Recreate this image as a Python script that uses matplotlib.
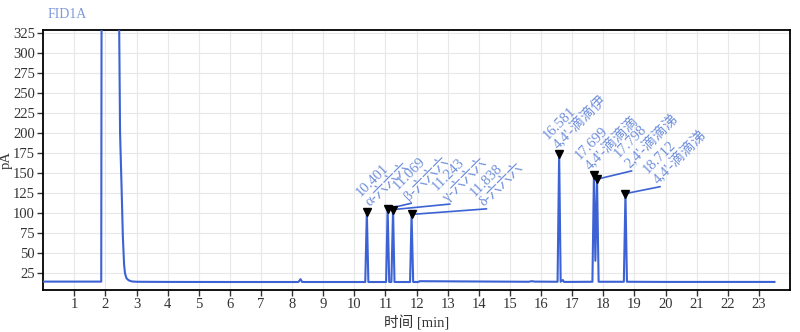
import matplotlib
matplotlib.use('Agg')
import matplotlib.pyplot as plt

plt.rcParams['font.family'] = ['Liberation Serif', 'Noto Sans CJK SC']

# chromatogram trace (min, pA)
trace_time = [0.0, 1.0, 1.865, 1.875, 2.44, 2.47, 2.52, 2.56, 2.60, 2.63, 2.68, 2.75, 2.85, 3.0,
              4.0, 6.0, 8.2, 8.27, 8.32, 8.4, 10.0, 10.35,
              10.401, 10.45, 11.02, 11.069, 11.12, 11.19, 11.243, 11.29, 11.79, 11.838, 11.89,
              12.05, 12.1, 15.6, 15.7, 15.8, 16.53, 16.581, 16.63, 16.7, 16.73, 16.77,
              17.65, 17.699, 17.745, 17.798, 17.85, 18.66, 18.712, 18.76, 20.0, 23.5]
trace_signal = [14.0, 14.0, 14.0, 340.0, 340.0, 200.0, 130.0, 70.0, 35.0, 24.0, 18.0, 15.5, 14.2, 13.8,
                13.6, 13.5, 13.5, 17.0, 13.6, 13.5, 13.5, 13.5,
                101.0, 13.5, 13.5, 105.0, 13.5, 13.5, 104.0, 13.5, 13.5, 98.0, 13.5,
                13.5, 14.5, 13.8, 14.5, 14.0, 13.8, 174.0, 13.8, 16.0, 13.8, 13.6,
                13.8, 147.0, 40.0, 142.0, 13.8, 13.8, 124.0, 13.8, 13.6, 13.6]

# identified peaks
peak_rt = [10.401, 11.069, 11.243, 11.838, 16.581, 17.699, 17.798, 18.712]
peak_height = [101.0, 105.0, 104.0, 98.0, 174.0, 147.0, 142.0, 124.0]
peak_name = ['α-六六六', 'β-六六六', 'γ-六六六', 'δ-六六六',
             "4,4'-滴滴伊", "4,4'-滴滴滴", "2,4'-滴滴涕", "4,4'-滴滴涕"]

# label offsets in points, and whether a leader line is drawn
label_offset = [(4, 2), (17, 4), (41, 4), (54, 4), (1, 1), (-1, 2), (25, 6), (25, 5)]
label_leader = [False, True, True, True, False, False, True, True]

blue = '#3c62d4'
label_blue = '#6f8fdc'

fig = plt.figure(figsize=(8, 3.32), dpi=100)
ax = fig.add_axes([0.054, 0.1265, 0.9335, 0.783])

ax.plot(trace_time, trace_signal, color=blue, lw=1.5, zorder=3)
ax.plot(peak_rt, peak_height, linestyle='none', marker='v', color='black', markersize=6, zorder=4)

for rt, h, name, off, lead in zip(peak_rt, peak_height, peak_name, label_offset, label_leader):
    if lead:
        ax.annotate('', xy=(rt, h), xytext=off, textcoords='offset points',
                    arrowprops=dict(arrowstyle='-', color=blue, lw=1.2, shrinkA=0, shrinkB=0))
    ax.annotate(f'{rt:.3f}\n{name}', xy=(rt, h), xytext=off, textcoords='offset points',
                rotation=45, rotation_mode='anchor', ha='left', va='bottom',
                fontsize=10.5, color=label_blue, linespacing=1.05)

ax.set_xlim(0, 24)
ax.set_ylim(3.5, 328.5)
ax.set_xticks(range(1, 24))
ax.set_yticks(range(25, 326, 25))
ax.grid(True, color='#e8e8e8', lw=0.8)
ax.set_axisbelow(True)
for s in ax.spines.values():
    s.set_color('black')
    s.set_linewidth(1.3)
ax.tick_params(direction='out', length=4, width=1, pad=2, labelsize=10.5, colors='#333333')
ax.set_xlabel('时间 [min]', fontsize=10.5, color='#333333', va='center')
ax.set_ylabel('pA', fontsize=10.5, color='#333333', va='center')
ax.xaxis.set_label_coords(0.5, -0.127)
ax.yaxis.set_label_coords(-0.049, 0.5)
fig.text(0.06, 0.955, 'FID1A', fontsize=10, color='#7f98da', va='center', ha='left')

fig.savefig('out.png', dpi=100, facecolor='white')
